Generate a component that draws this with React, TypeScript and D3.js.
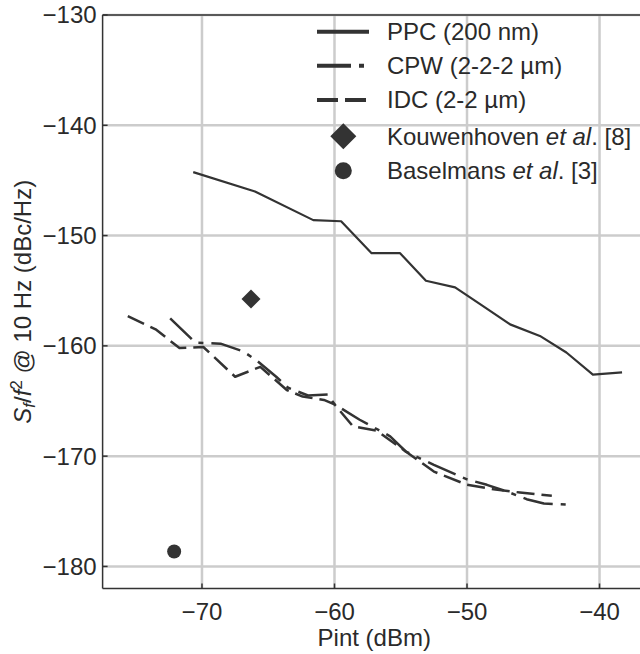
import React from 'react';
import * as d3 from 'd3';

// PPC (200 nm) – solid
const ppcX = [-70.66, -66.0, -61.6, -59.5, -57.2, -55.05, -53.1, -50.9, -48.9, -46.75, -44.5, -42.5, -40.5, -38.3];
const ppcY = [-144.25, -146.0, -148.6, -148.7, -151.6, -151.6, -154.1, -154.7, -156.3, -158.05, -159.1, -160.6, -162.6, -162.4];

// CPW (2-2-2 µm) – dash-dot
const cpwX = [-72.4, -70.5, -68.6, -66.9, -65.9, -64.4, -63.5, -62.0, -60.5, -60.0, -58.1, -55.8, -54.6, -52.5, -50.0, -48.5, -47.0, -45.5, -44.2, -42.4];
const cpwY = [-157.5, -159.7, -159.8, -160.5, -161.3, -162.8, -163.8, -164.5, -164.4, -165.3, -166.7, -168.2, -169.6, -170.8, -172.1, -172.6, -173.2, -173.9, -174.3, -174.4];

// IDC (2-2 µm) – dashed
const idcX = [-75.6, -73.5, -71.7, -69.9, -67.5, -65.6, -63.6, -62.4, -60.8, -60.0, -58.6, -56.8, -55.3, -54.6, -52.5, -50.0, -48.0, -46.0, -43.6];
const idcY = [-157.3, -158.5, -160.2, -160.1, -162.8, -161.9, -164.0, -164.6, -164.9, -165.3, -167.3, -167.7, -169.0, -169.6, -171.4, -172.6, -173.0, -173.3, -173.6];

// Reference points
const kouwX = [-66.3];
const kouwY = [-155.75];
const baselX = [-72.1];
const baselY = [-178.64];

const xTicks = [-70, -60, -50, -40];
const yTicks = [-180, -170, -160, -150, -140, -130];

const legendLabels = ['PPC (200 nm)', 'CPW (2-2-2 µm)', 'IDC (2-2 µm)', 'Kouwenhoven', 'Baselmans'];
const legendRefs = ['', '', '', '[8]', '[3]'];

const FONT = '"Liberation Sans", Arial, Helvetica, sans-serif';
const INK = '#333333';
const TEXT = '#2a2a2a';
const GRID = '#cccccc';

export default function App() {
  const W = 640;
  const H = 654;
  const left = 102.6;
  const right = 645.9;
  const top = 15;
  const bottom = 588.5;
  const x = d3.scaleLinear().domain([-77.5, -36.5]).range([left, right]);
  const y = d3.scaleLinear().domain([-182, -130]).range([bottom, top]);
  const line = d3
    .line<[number, number]>()
    .x((d) => x(d[0]))
    .y((d) => y(d[1]));
  const zip = (a: number[], b: number[]) => a.map((v, i) => [v, b[i]] as [number, number]);
  const fmt = d3.format('d');

  const diamondPath = (s: number) => `M0,${-s}L${s},0L0,${s}L${-s},0Z`;

  const legendX1 = 317;
  const legendX2 = 369;
  const legendTextX = 387;
  const rows = [31.7, 65.7, 100, 136.3, 170.7];
  const fs = 24;

  return (
    <svg
      width={W}
      height={H}
      style={{ position: 'absolute', left: 0, top: 0, background: '#fff' }}
      fontFamily={FONT}
    >
      <rect x={0} y={0} width={W} height={H} fill="#fff" />
      <defs>
        <clipPath id="plot">
          <rect x={left} y={top} width={right - left} height={bottom - top} />
        </clipPath>
      </defs>
      {/* grid */}
      {xTicks.map((t) => (
        <line key={'gx' + t} x1={x(t)} x2={x(t)} y1={top} y2={bottom} stroke={GRID} strokeWidth={2.5} />
      ))}
      {yTicks.map((t) => (
        <line key={'gy' + t} x1={left} x2={right} y1={y(t)} y2={y(t)} stroke={GRID} strokeWidth={2.5} />
      ))}

      {/* data */}
      <g clipPath="url(#plot)" fill="none" stroke={INK} strokeLinejoin="round">
        <path d={line(zip(ppcX, ppcY)) || ''} strokeWidth={2.2} />
        <path d={line(zip(cpwX, cpwY)) || ''} strokeWidth={2.5} strokeDasharray="30 8 5 8" />
        <path d={line(zip(idcX, idcY)) || ''} strokeWidth={2.5} strokeDasharray="18 7" />
      </g>
      {kouwX.map((v, i) => (
        <path key={'k' + i} d={diamondPath(9.5)} transform={`translate(${x(v)},${y(kouwY[i])})`} fill={INK} />
      ))}
      {baselX.map((v, i) => (
        <circle key={'b' + i} cx={x(v)} cy={y(baselY[i])} r={7} fill={INK} />
      ))}

      {/* spines */}
      <line x1={left} x2={left} y1={top} y2={bottom} stroke={INK} strokeWidth={1.5} />
      <line x1={left} x2={right} y1={bottom} y2={bottom} stroke={INK} strokeWidth={1.5} />
      <line x1={left} x2={right} y1={top} y2={top} stroke={INK} strokeWidth={1.5} />

      {/* ticks */}
      {xTicks.map((t) => (
        <g key={'tx' + t}>
          <line x1={x(t)} x2={x(t)} y1={bottom} y2={bottom - 5} stroke={INK} strokeWidth={1.5} />
          <text x={x(t)} y={bottom + 31.5} textAnchor="middle" fontSize={fs} fill={TEXT}>
            {fmt(t)}
          </text>
        </g>
      ))}
      {yTicks.map((t) => (
        <g key={'ty' + t}>
          <line x1={left} x2={left + 5} y1={y(t)} y2={y(t)} stroke={INK} strokeWidth={1.5} />
          <text x={left - 6} y={y(t)} dy="0.35em" textAnchor="end" fontSize={fs} fill={TEXT}>
            {fmt(t)}
          </text>
        </g>
      ))}

      {/* axis labels */}
      <text x={(left + right) / 2} y={646} textAnchor="middle" fontSize={fs} fill={TEXT}>
        Pint (dBm)
      </text>
      <text transform={`translate(31,${(top + bottom) / 2}) rotate(-90)`} textAnchor="middle" fontSize={fs} fill={TEXT}>
        <tspan fontStyle="italic">S</tspan>
        <tspan fontStyle="italic" fontSize={fs * 0.7} dy={4}>f</tspan>
        <tspan dy={-4}>/</tspan>
        <tspan fontStyle="italic">f</tspan>
        <tspan fontSize={fs * 0.7} dy={-9}>2</tspan>
        <tspan dy={9}> @ 10 Hz (dBc/Hz)</tspan>
      </text>

      {/* legend */}
      <g>
        <line x1={legendX1} x2={legendX2} y1={rows[0]} y2={rows[0]} stroke={INK} strokeWidth={4} />
        <line x1={legendX1} x2={legendX2} y1={rows[1]} y2={rows[1]} stroke={INK} strokeWidth={4} strokeDasharray="34 8 5 8" />
        <line x1={legendX1} x2={legendX2} y1={rows[2]} y2={rows[2]} stroke={INK} strokeWidth={4} strokeDasharray="21 7" />
        <path d={diamondPath(13)} transform={`translate(343.3,${rows[3]})`} fill={INK} />
        <circle cx={343.3} cy={rows[4]} r={8.5} fill={INK} />
        {legendLabels.map((lab, i) => (
          <text key={'l' + i} x={legendTextX} y={rows[i]} dy="0.35em" fontSize={fs} fill={TEXT}>
            {i < 3 ? (
              lab
            ) : (
              <>
                {lab + ' '}
                <tspan fontStyle="italic">et al</tspan>
                {'. ' + legendRefs[i]}
              </>
            )}
          </text>
        ))}
      </g>
    </svg>
  );
}
